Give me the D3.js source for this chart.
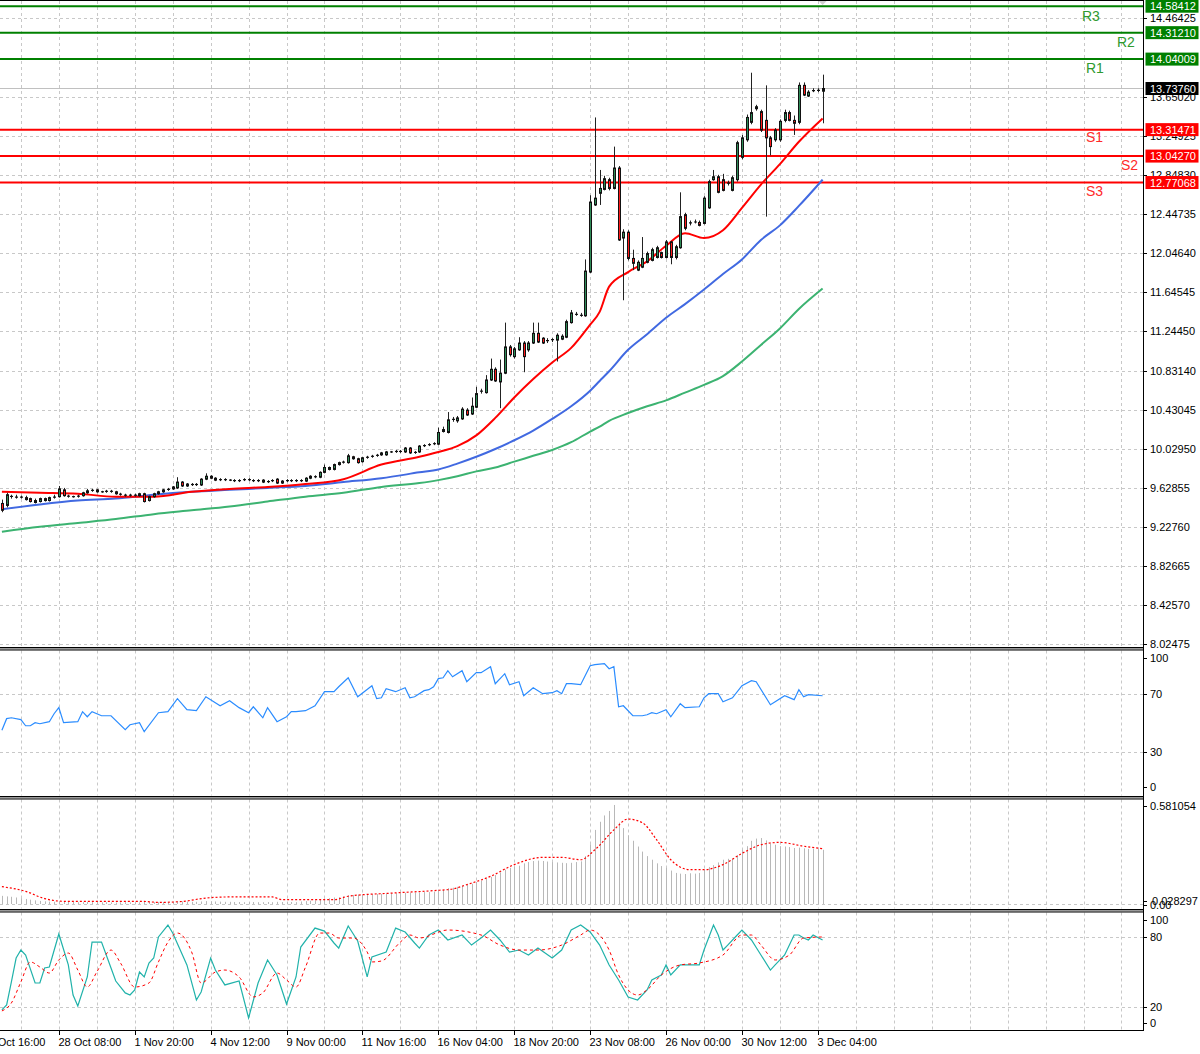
<!DOCTYPE html>
<html><head><meta charset="utf-8">
<script src="https://cdn.jsdelivr.net/npm/d3@7"></script>
<style>html,body{margin:0;padding:0;background:#fff;}svg{display:block;font-family:"Liberation Sans",Arial,sans-serif;}</style>
</head><body><svg id="c" width="1200" height="1054"></svg>
<script>
// ---------- DATA (H4 candles, index 0..173) ----------
const open = [
9.47,9.45,9.54,9.54,9.53,9.53,9.52,9.50,9.49,9.52,
9.50,9.53,9.54,9.61,9.55,9.54,9.54,9.55,9.58,9.60,
9.61,9.59,9.59,9.60,9.59,9.57,9.56,9.55,9.56,9.55,
9.57,9.50,9.54,9.57,9.59,9.61,9.62,9.63,9.69,9.65,
9.67,9.66,9.66,9.72,9.75,9.73,9.71,9.72,9.71,9.71,
9.70,9.71,9.72,9.71,9.70,9.71,9.69,9.70,9.72,9.68,
9.70,9.71,9.70,9.71,9.70,9.73,9.75,9.74,9.79,9.84,
9.82,9.87,9.89,9.89,9.95,9.93,9.90,9.94,9.95,9.96,
9.97,9.97,10.00,10.00,10.01,10.00,10.04,9.99,10.00,10.06,
10.07,10.08,10.08,10.21,10.20,10.33,10.32,10.34,10.43,10.39,
10.46,10.62,10.61,10.74,10.85,10.72,10.81,11.08,10.98,11.05,
11.12,11.05,11.12,11.22,11.17,11.14,11.15,11.15,11.16,11.18,
11.33,11.41,11.40,11.40,11.85,12.54,12.66,12.70,12.80,12.71,
12.92,12.20,12.26,11.99,11.87,11.90,11.95,11.97,12.00,12.05,
12.00,12.16,12.00,12.10,12.44,12.35,12.36,12.36,12.35,12.51,
12.80,12.83,12.80,12.76,12.69,12.80,13.03,13.21,13.39,13.53,
13.50,13.41,13.23,13.21,13.21,13.41,13.49,13.41,13.39,13.77,
13.66,13.71,13.72,13.71];
const high = [
9.51,9.58,9.56,9.56,9.55,9.55,9.53,9.52,9.53,9.53,
9.54,9.56,9.65,9.63,9.56,9.55,9.56,9.59,9.62,9.62,
9.62,9.60,9.61,9.61,9.60,9.58,9.57,9.57,9.57,9.58,
9.58,9.55,9.58,9.60,9.62,9.63,9.65,9.74,9.70,9.68,
9.68,9.68,9.73,9.78,9.76,9.74,9.73,9.73,9.72,9.72,
9.72,9.73,9.73,9.72,9.72,9.72,9.71,9.72,9.73,9.71,
9.72,9.72,9.72,9.72,9.74,9.76,9.76,9.80,9.87,9.85,
9.88,9.90,9.91,9.98,9.96,9.94,9.95,9.96,9.97,9.98,
10.00,10.01,10.01,10.02,10.02,10.05,10.05,10.01,10.07,10.08,
10.09,10.10,10.25,10.26,10.41,10.36,10.37,10.46,10.45,10.56,
10.67,10.65,10.79,10.96,10.87,10.95,11.33,11.10,11.08,11.18,
11.14,11.14,11.33,11.33,11.18,11.17,11.17,11.22,11.21,11.36,
11.46,11.44,11.43,11.98,12.64,13.44,12.90,12.84,12.82,13.14,
12.94,12.29,12.28,12.08,11.97,12.21,12.06,12.10,12.12,12.06,
12.18,12.17,12.13,12.67,12.46,12.38,12.39,12.38,12.63,12.80,
12.90,12.85,12.86,12.79,12.84,13.20,13.26,13.47,13.90,13.57,
13.52,13.77,13.25,13.33,13.42,13.52,13.51,13.46,13.80,13.80,
13.72,13.74,13.74,13.88];
const low = [
9.38,9.43,9.52,9.52,9.52,9.50,9.48,9.47,9.48,9.49,
9.49,9.52,9.53,9.54,9.53,9.53,9.53,9.54,9.57,9.59,
9.58,9.58,9.58,9.58,9.56,9.55,9.54,9.54,9.54,9.54,
9.48,9.49,9.53,9.56,9.58,9.60,9.61,9.62,9.64,9.64,
9.65,9.65,9.65,9.71,9.72,9.70,9.70,9.70,9.70,9.69,
9.69,9.70,9.70,9.69,9.69,9.68,9.68,9.69,9.67,9.67,
9.69,9.69,9.69,9.69,9.69,9.72,9.73,9.73,9.78,9.81,
9.81,9.86,9.88,9.88,9.92,9.88,9.89,9.93,9.94,9.95,
9.96,9.96,9.99,9.99,9.99,9.99,9.98,9.98,9.99,10.05,
10.06,10.07,10.07,10.20,10.19,10.31,10.30,10.33,10.37,10.38,
10.45,10.60,10.60,10.73,10.72,10.45,10.80,10.98,10.96,11.04,
10.82,11.03,11.11,11.12,11.11,11.12,11.13,10.93,11.15,11.17,
11.32,11.40,11.39,11.39,11.84,12.53,12.54,12.69,12.69,12.70,
12.17,11.56,11.97,11.87,11.86,11.89,11.94,11.96,11.99,11.99,
11.99,11.93,11.98,12.09,12.28,12.33,12.35,12.32,12.34,12.50,
12.79,12.66,12.68,12.74,12.68,12.78,13.01,13.19,13.37,13.51,
13.29,12.42,13.05,13.19,13.19,13.39,13.40,13.26,13.37,13.66,
13.65,13.70,13.70,13.38];
const close = [
9.40,9.56,9.545,9.53,9.54,9.51,9.49,9.48,9.52,9.50,
9.53,9.54,9.62,9.55,9.54,9.54,9.55,9.58,9.60,9.61,
9.59,9.59,9.60,9.59,9.57,9.56,9.55,9.56,9.55,9.57,
9.49,9.54,9.57,9.59,9.61,9.62,9.64,9.69,9.65,9.67,
9.66,9.67,9.72,9.75,9.73,9.71,9.72,9.71,9.71,9.70,
9.71,9.72,9.71,9.70,9.71,9.69,9.70,9.71,9.68,9.70,
9.71,9.70,9.71,9.70,9.73,9.75,9.74,9.79,9.84,9.82,
9.87,9.89,9.90,9.96,9.93,9.89,9.94,9.95,9.96,9.97,
9.99,10.00,10.00,10.01,10.00,10.04,9.99,10.00,10.06,10.07,
10.08,10.09,10.20,10.23,10.33,10.34,10.35,10.44,10.38,10.47,
10.60,10.63,10.74,10.85,10.73,10.81,11.08,11.00,11.06,11.12,
10.98,11.12,11.22,11.13,11.12,11.15,11.16,11.20,11.19,11.34,
11.43,11.42,11.41,11.86,12.57,12.61,12.71,12.81,12.71,12.92,
12.18,12.26,11.99,11.94,11.95,11.99,12.04,12.08,12.10,12.00,
12.16,12.00,12.11,12.42,12.30,12.36,12.37,12.33,12.61,12.78,
12.83,12.67,12.69,12.77,12.82,13.18,13.23,13.44,13.49,13.55,
13.31,13.23,13.14,13.31,13.40,13.49,13.41,13.38,13.77,13.67,
13.70,13.72,13.715,13.7376];

// moving averages, read at these bar indices
const maIdx   = [0,8,16,24,32,40,48,56,64,72,80,88,92,96,100,104,108,112,116,120,124,126,128,132,136,140,144,148,152,156,160,164,168,173];
const maRed   = [9.59,9.58,9.57,9.54,9.54,9.59,9.62,9.64,9.67,9.72,9.87,9.95,10.00,10.06,10.17,10.35,10.56,10.75,10.92,11.07,11.31,11.44,11.70,11.85,11.96,12.12,12.25,12.20,12.28,12.51,12.75,12.96,13.19,13.43];
const maBlue  = [9.41,9.46,9.50,9.52,9.56,9.59,9.61,9.63,9.65,9.69,9.73,9.79,9.82,9.88,9.95,10.03,10.12,10.22,10.34,10.47,10.63,10.73,10.83,11.05,11.21,11.38,11.52,11.67,11.83,11.98,12.18,12.33,12.53,12.80];
const maGreen = [9.18,9.23,9.27,9.31,9.36,9.40,9.44,9.49,9.54,9.58,9.64,9.68,9.71,9.75,9.80,9.84,9.90,9.96,10.02,10.10,10.21,10.26,10.32,10.40,10.47,10.53,10.61,10.69,10.78,10.93,11.10,11.27,11.47,11.68];

// support / resistance
const levelNames  = ["R3","R2","R1","S1","S2","S3"];
const levelValues = [14.58412,14.31210,14.04009,13.31471,13.04270,12.77068];
const lastPrice = 13.73760;

// axes
const priceTicks = [8.02475,8.42570,8.82665,9.22760,9.62855,10.02950,10.43045,10.83140,11.24450,11.64545,12.04640,12.44735,12.84830,13.24925,13.65020,14.46425];
const timeIdx    = [-4,12,28,44,60,76,92,108,124,140,156,172];
const timeLabels = ["25 Oct 16:00","28 Oct 08:00","1 Nov 20:00","4 Nov 12:00","9 Nov 00:00","11 Nov 16:00","16 Nov 04:00","18 Nov 20:00","23 Nov 08:00","26 Nov 00:00","30 Nov 12:00","3 Dec 04:00"];

// RSI vertices
const rsiIdx = [0,1,2,4,5,6,7,8,10,11,12,13,16,17,18,19,21,23,26,27,29,30,33,35,37,39,41,43,46,48,50,52,53,55,56,58,60,61,62,64,66,68,70,71,73,75,78,79,80,81,83,85,86,87,89,90,91,92,93,94,95,97,98,100,101,103,104,106,107,109,110,112,114,116,117,118,119,120,122,124,125,127,128,129,130,131,133,135,136,137,138,140,141,143,144,147,148,149,151,152,154,156,158,159,162,163,165,167,168,169,170,173];
const rsiVal = [45,53,53.6,52.3,48.1,48.1,50.2,49.5,50.9,56.4,60.6,50.2,50.9,57.8,54.3,57.8,55,55,45.4,48.8,50.2,44,57.1,57.8,66.8,59.2,58.5,68.1,61.9,65.4,60.6,57.1,61.2,53.6,60.6,50.9,54.3,57.8,57.8,58.5,61.9,71.6,71.6,75,81.2,68.1,75.7,66.8,67.4,73.7,71.6,74.3,67.4,68.1,72.3,73,75,80.6,81.2,86.1,81.9,86.1,78.5,84.7,84.7,88.8,77.1,84,76.4,78.5,68.8,74.3,70.2,70.9,72.3,70.2,77.1,77.1,76.4,89.5,90.2,90.9,87.4,88.8,61.2,61.9,55,55,55.7,57.1,56.4,59.2,54.3,63.3,60.6,61.2,67.4,70.2,70.2,64.7,67.4,75.7,79.2,78.5,62.6,64.7,68.8,66.1,73,68.1,69.5,68.8];

// histogram indicator (one value per bar) and its signal
const histVal = [
0.045,0.042,0.040,0.036,0.032,0.028,0.024,0.020,0.017,0.015,0.013,0.012,
0.014,0.013,0.012,0.011,0.010,0.010,0.011,0.010,0.009,0.009,0.010,0.009,0.008,0.009,0.010,0.009,0.008,0.009,0.012,0.011,0.010,0.010,0.011,
0.012,0.011,0.015,0.014,0.013,0.012,0.012,0.014,0.016,0.015,0.014,0.013,0.012,0.012,0.011,0.011,0.010,0.010,0.011,0.010,0.010,0.011,0.010,0.012,0.011,0.010,0.011,0.010,
0.014,0.016,0.018,0.020,0.024,0.030,0.032,0.036,0.038,0.042,0.048,0.050,0.052,0.052,0.052,0.054,0.055,0.056,0.058,0.058,0.059,0.060,0.062,0.062,0.063,0.064,0.066,0.066,
0.068,0.075,0.078,0.088,0.090,0.095,0.102,0.108,0.112,0.122,0.128,0.140,0.150,0.160,0.175,0.190,0.200,0.205,0.212,0.225,
0.232,0.238,0.240,0.238,0.235,0.232,0.230,0.228,0.226,0.228,0.232,0.236,
0.265,0.330,0.410,0.455,0.490,0.515,0.548,0.450,
0.420,0.380,0.350,0.318,0.290,0.265,0.245,0.225,0.210,0.200,0.185,0.172,
0.168,0.166,0.170,0.168,0.172,0.190,0.205,0.215,
0.230,0.245,0.250,0.250,0.270,0.300,0.320,0.350,
0.362,0.365,0.352,0.335,0.328,0.320,0.318,
0.315,0.310,0.312,0.308,0.305,0.305,0.303,0.300];
const hsIdx = [0,5,9,13,30,33,38,43,48,57,59,70,73,82,91,95,98,103,108,114,118,122,125,129,132,135,138,141,145,148,152,156,160,164,169,173];
const hsVal = [0.096,0.07,0.03,0.015,0.014,0.009,0.014,0.033,0.039,0.039,0.024,0.024,0.043,0.06,0.074,0.083,0.107,0.153,0.218,0.258,0.258,0.245,0.30,0.41,0.47,0.45,0.356,0.245,0.19,0.19,0.218,0.28,0.328,0.341,0.32,0.306];
const histLabels = ["0.581054","0.028297","0.00"];

// stochastic
const stIdx  = [0,1,2,3,4,5,7,8,9,10,12,14,15,16,18,19,21,23,24,26,27,28,29,30,31,32,33,35,36,39,41,42,44,45,47,50,52,54,56,58,60,62,63,66,68,70,71,73,75,77,78,81,83,85,87,88,90,92,94,97,99,101,103,105,107,109,111,113,116,118,120,122,124,126,128,130,132,134,136,137,139,140,141,143,145,147,148,150,151,152,153,155,156,158,160,162,163,165,167,168,169,170,171,173];
const stMain = [17.2,21.5,41.4,62.1,69,64.7,40.5,40.5,53.5,54.3,82.9,56.1,30.1,20.6,45.7,75.9,75.9,53.5,42.2,31.9,30.1,34.5,50,45.7,57.8,62.1,80.3,90.6,83.7,56.1,25.8,32.7,62.1,51.7,38.8,42.2,10.2,40.5,60.4,47.4,22.3,45.7,71.6,88,85.4,75.1,70.7,89.8,76.8,45.7,63,67.3,88,84.6,75.1,70.7,82,86.3,77.7,82,73.3,79.4,86.3,77.7,67.3,69,64.7,70.7,62.1,69,86.3,90.6,84.6,73.3,56.1,43.1,28.4,25.8,34.5,43.1,47.4,56.1,47.4,56.1,56.1,56.1,69,90.6,82,69,73.3,82,86.3,77.7,64.7,51.7,56.1,64.7,82,82,79.4,77.7,82,77.7];
const sgIdx  = [0,2,4,6,8,10,12,14,16,18,20,23,25,28,31,33,35,37,40,42,45,47,50,53,55,58,60,62,64,67,69,71,74,77,78,80,84,86,88,94,101,105,109,113,118,122,124,126,128,130,134,136,139,143,147,152,156,158,160,163,166,169,173];
const stSig  = [16.3,23.2,41.4,58.7,54.3,49.1,60.4,66.4,51.7,37,50,69,57.8,37,40.5,58.7,75.9,83.7,67.3,40.5,50,51.7,45.7,28.4,31.9,49.1,43.1,37,54.3,83.7,83.7,79.4,79.4,67.3,58.7,59.5,75.9,82,79.4,86.3,82,73.3,69,69,73.3,82,86.3,82,69,47.4,30.1,34.5,47.4,56.1,57.8,64.7,82,82,73.3,60.4,64.7,79.4,80.3];

// ---------- LAYOUT ----------
const AX = 1143;
const svg = d3.select('#c');
const x  = d3.scaleLinear().domain([0,173]).range([1.9,822.6]);
const yP = d3.scaleLinear().domain([8.02475,14.58412]).range([644,6.2]);
const yR = d3.scaleLinear().domain([0,100]).range([795.5,650.5]);
const yH = d3.scaleLinear().domain([0,0.581054]).range([904,799]);
const yS = d3.scaleLinear().domain([0,100]).range([1029.8,914.2]);
const panels = [[0,647.5],[649.5,796.5],[798.5,909.5],[911.5,1030.5]];

svg.append('rect').attr('width',1200).attr('height',1054).attr('fill','#fff');
// gaps between panels
for (let k=0;k<3;k++){
  svg.append('rect').attr('x',0).attr('y',panels[k][1]).attr('width',AX).attr('height',panels[k+1][0]-panels[k][1]).attr('fill','#9a9a9a');
}
const defs = svg.append('defs');
panels.forEach((p,k)=>{
  defs.append('clipPath').attr('id','cp'+k).append('rect').attr('x',0).attr('y',p[0]+0.5).attr('width',AX).attr('height',p[1]-p[0]-1);
});

const grid = svg.append('g').attr('stroke','#c8c8c8').attr('stroke-dasharray','3,3').attr('stroke-width',1);
// vertical grid
const vIdx = d3.range(4,241,8);
panels.forEach(p=>{
  vIdx.forEach(i=>{
    const xx = Math.round(x(i))+0.5;
    if (xx < AX) grid.append('line').attr('x1',xx).attr('x2',xx).attr('y1',p[0]+1).attr('y2',p[1]-1);
  });
});
// horizontal grid
priceTicks.forEach(v=>{ const yy=Math.round(yP(v))+0.5; grid.append('line').attr('x1',0).attr('x2',AX).attr('y1',yy).attr('y2',yy); });
[70,30].forEach(v=>{ const yy=Math.round(yR(v))+0.5; grid.append('line').attr('x1',0).attr('x2',AX).attr('y1',yy).attr('y2',yy); });
[80,20].forEach(v=>{ const yy=Math.round(yS(v))+0.5; grid.append('line').attr('x1',0).attr('x2',AX).attr('y1',yy).attr('y2',yy); });
grid.append('line').attr('x1',0).attr('x2',AX).attr('y1',Math.round(yH(0))+0.5).attr('y2',Math.round(yH(0))+0.5);

// ---------- MAIN PANEL ----------
const main = svg.append('g').attr('clip-path','url(#cp0)');
// last price line
main.append('line').attr('x1',0).attr('x2',AX).attr('y1',yP(lastPrice)).attr('y2',yP(lastPrice)).attr('stroke','#c0c0c0');

// levels
levelValues.forEach((v,k)=>{
  main.append('line').attr('x1',0).attr('x2',AX).attr('y1',yP(v)).attr('y2',yP(v))
    .attr('stroke', k<3 ? '#008000' : '#ff0000').attr('stroke-width',2);
});

// MAs
const maLine = d3.line().x(d=>x(d[0])).y(d=>yP(d[1])).curve(d3.curveMonotoneX);
[[maGreen,'#3cb371'],[maBlue,'#4169e1'],[maRed,'#ff0000']].forEach(([arr,col])=>{
  main.append('path').attr('d',maLine(maIdx.map((i,k)=>[i,arr[k]]))).attr('fill','none').attr('stroke',col).attr('stroke-width',2);
});

// candles
const cg = main.append('g');
open.forEach((o,i)=>{
  const c=close[i], h=high[i], l=low[i];
  const xx = Math.round(x(i))+0.5;
  cg.append('line').attr('x1',xx).attr('x2',xx).attr('y1',yP(h)).attr('y2',yP(l)).attr('stroke','#222').attr('stroke-width',1);
  const yt = yP(Math.max(o,c)), yb = yP(Math.min(o,c));
  if (yb-yt < 1.5){
    cg.append('line').attr('x1',xx-1.5).attr('x2',xx+1.5).attr('y1',(yt+yb)/2).attr('y2',(yt+yb)/2).attr('stroke','#111').attr('stroke-width',1.2);
  } else {
    cg.append('rect').attr('x',xx-1).attr('y',yt).attr('width',2).attr('height',yb-yt)
      .attr('fill', c>=o ? '#2e8b57' : '#ff1a1a').attr('stroke','#111').attr('stroke-width',1);
  }
});

// level labels
const lblPos = [[1082,20.5],[1117,46.5],[1086,72.5],[1086,142],[1121,169.5],[1086,195.5]];
levelNames.forEach((n,k)=>{
  svg.append('text').attr('x',lblPos[k][0]).attr('y',lblPos[k][1]).text(n)
    .attr('font-size',14).attr('fill', k<3 ? '#2f9a2f' : '#ff2a2a');
});

// marker triangle
svg.append('path').attr('d',`M${x(173)-5},0 L${x(173)+5},0 L${x(173)},5 Z`).attr('fill','#d0d0d0');

// ---------- RSI ----------
const rg = svg.append('g').attr('clip-path','url(#cp1)');
rg.append('path').attr('d', d3.line().x(d=>x(d[0])).y(d=>yR(d[1]))(rsiIdx.map((i,k)=>[i,rsiVal[k]])))
  .attr('fill','none').attr('stroke','#2a8cff').attr('stroke-width',1.2);

// ---------- HISTOGRAM ----------
const hg = svg.append('g').attr('clip-path','url(#cp2)');
histVal.forEach((v,i)=>{
  const xx = Math.round(x(i))+0.5;
  hg.append('line').attr('x1',xx).attr('x2',xx).attr('y1',yH(0)).attr('y2',yH(v)).attr('stroke','#b8b8b8').attr('stroke-width',1);
});
hg.append('path').attr('d', d3.line().x(d=>x(d[0])).y(d=>yH(d[1])).curve(d3.curveMonotoneX)(hsIdx.map((i,k)=>[i,hsVal[k]])))
  .attr('fill','none').attr('stroke','#ff0000').attr('stroke-width',1.2).attr('stroke-dasharray','2,2');

// ---------- STOCHASTIC ----------
const sg = svg.append('g').attr('clip-path','url(#cp3)');
sg.append('path').attr('d', d3.line().x(d=>x(d[0])).y(d=>yS(d[1]))(stIdx.map((i,k)=>[i,stMain[k]])))
  .attr('fill','none').attr('stroke','#20b2aa').attr('stroke-width',1.2);
sg.append('path').attr('d', d3.line().x(d=>x(d[0])).y(d=>yS(d[1])).curve(d3.curveMonotoneX)(sgIdx.map((i,k)=>[i,stSig[k]])))
  .attr('fill','none').attr('stroke','#ff0000').attr('stroke-width',1).attr('stroke-dasharray','3,3');

// ---------- BORDERS ----------
const bd = svg.append('g').attr('stroke','#000').attr('stroke-width',1).attr('fill','none');
panels.forEach(p=>{
  bd.append('line').attr('x1',0).attr('x2',AX).attr('y1',p[0]+0.5).attr('y2',p[0]+0.5);
  bd.append('line').attr('x1',0).attr('x2',AX).attr('y1',p[1]).attr('y2',p[1]);
});
bd.append('line').attr('x1',AX+0.5).attr('x2',AX+0.5).attr('y1',0).attr('y2',1031);

// ---------- AXES TEXT ----------
const ax = svg.append('g').attr('font-size',11).attr('fill','#000');
function rLabel(y,t,xx){
  svg.append('line').attr('x1',AX).attr('x2',AX+4).attr('y1',Math.round(y)+0.5).attr('y2',Math.round(y)+0.5).attr('stroke','#000');
  ax.append('text').attr('x',xx||1150).attr('y',y).attr('dominant-baseline','central').text(t);
}
priceTicks.forEach(v=>rLabel(yP(v), v.toFixed(5)));
rLabel(658,'100'); rLabel(yR(70),'70'); rLabel(yR(30),'30'); rLabel(787,'0');
rLabel(806,histLabels[0]); rLabel(901,histLabels[1],1152); rLabel(904.5,histLabels[2]);
rLabel(920,'100'); rLabel(yS(80),'80'); rLabel(yS(20),'20'); rLabel(1023,'0');

// value boxes
function box(v,fill){
  const yy = yP(v);
  svg.append('rect').attr('x',1145.5).attr('y',yy-6.5).attr('width',53).attr('height',13).attr('fill',fill);
  svg.append('text').attr('x',1150).attr('y',yy).attr('dominant-baseline','central').attr('font-size',11).attr('fill','#fff').text(v.toFixed(5));
}
levelValues.forEach((v,k)=>box(v, k<3 ? '#008000' : '#ff0000'));
box(lastPrice,'#000');

// time axis
timeIdx.forEach((i,k)=>{
  const xx = Math.round(x(i))+0.5;
  svg.append('line').attr('x1',xx).attr('x2',xx).attr('y1',1030).attr('y2',1035).attr('stroke','#000');
  ax.append('text').attr('x',xx-1).attr('y',1041.5).attr('dominant-baseline','central').text(timeLabels[k]);
});
</script></body></html>
